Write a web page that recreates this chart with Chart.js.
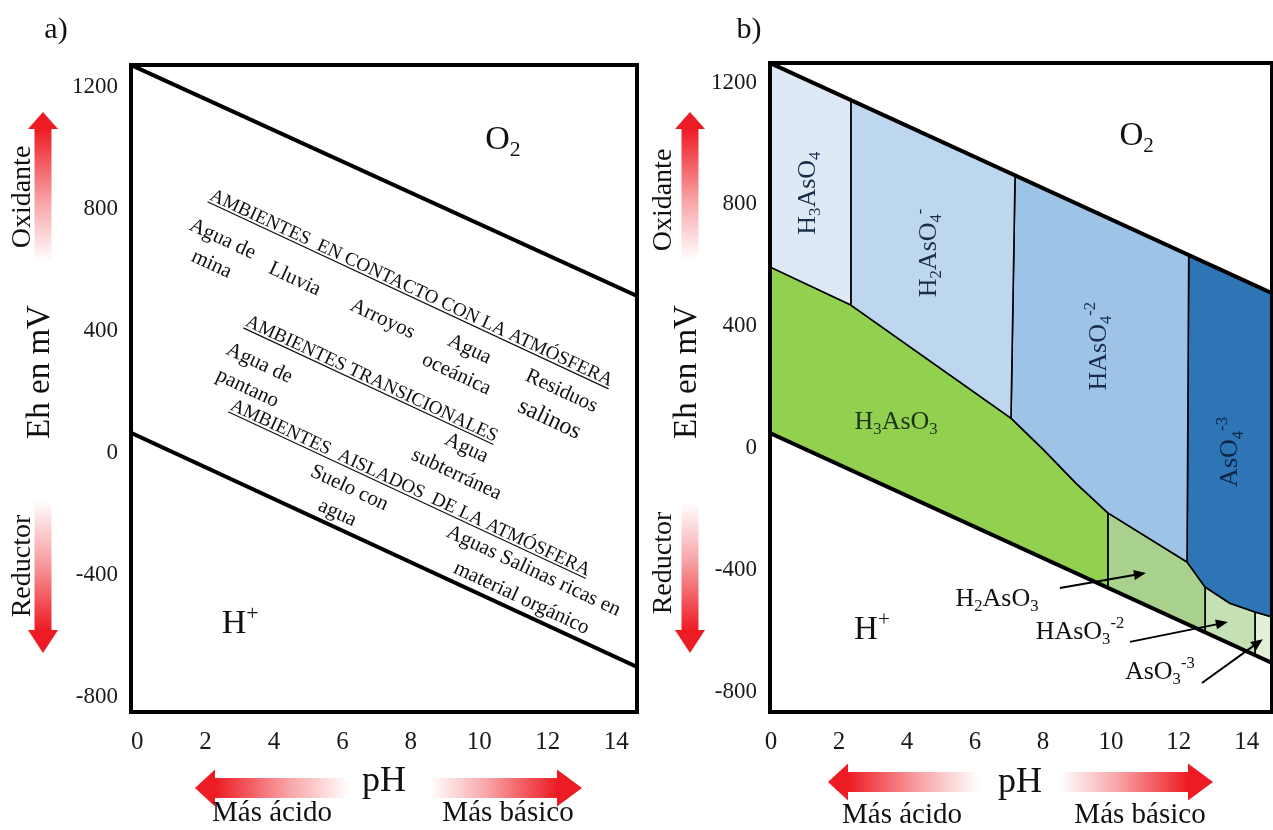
<!DOCTYPE html>
<html>
<head>
<meta charset="utf-8">
<script src="https://cdn.jsdelivr.net/npm/chart.js@4.4.0/dist/chart.umd.min.js"></script>
<style>
  body { margin: 0; background: #fff; }
  #wrap { position: relative; width: 1273px; height: 830px; overflow: hidden; }
  canvas { position: absolute; top: 0; }
</style>
</head>
<body>
<div id="wrap">
  <canvas id="chartA" width="640" height="830" style="left:0"></canvas>
  <canvas id="chartB" width="633" height="830" style="left:640px"></canvas>
</div>
<script>
const xTicks = [0, 2, 4, 6, 8, 10, 12, 14];
const yTicks = [-800, -400, 0, 400, 800, 1200];

// panel a: water stability limits [pH, Eh mV]
const o2LimitA = [[-0.18, 1271], [14.61, 514]];
const h2LimitA = [[-0.18, 65], [14.61, -702]];

// panel b: water stability limits
const o2LimitB = [[-0.03, 1264], [14.74, 509]];
const h2LimitB = [[-0.03, 50], [14.74, -704]];

// panel b: arsenic species fields [pH, Eh mV]
const fieldH3AsO4 = [[-0.03, 1264], [2.35, 1142], [2.35, 470], [-0.03, 595]];
const fieldH2AsO4 = [[2.35, 1142], [7.18, 896], [7.06, 99], [2.35, 470]];
const fieldHAsO4 = [[7.18, 896], [12.29, 634], [12.24, -373], [9.91, -212], [8.97, -114], [8.03, -6], [7.06, 99]];
const fieldAsO4 = [[12.29, 634], [14.74, 509], [14.74, -553], [14.24, -537], [13.5, -508], [12.77, -455], [12.24, -373]];
const fieldH3AsO3 = [[-0.03, 595], [2.35, 470], [7.06, 99], [8.03, -6], [8.97, -114], [9.91, -212], [9.91, -458], [-0.03, 50]];
const fieldH2AsO3 = [[9.91, -212], [12.24, -373], [12.77, -455], [12.77, -604], [9.91, -458]];
const fieldHAsO3 = [[12.77, -455], [13.5, -508], [14.24, -537], [14.24, -679], [12.77, -604]];
const fieldAsO3 = [[14.24, -537], [14.74, -553], [14.74, -704], [14.24, -679]];

// pointer arrows in panel b [from, to]
const pointersB = [
  [[8.5, -458], [11.03, -409]],
  [[10.56, -635], [13.44, -570]],
  [[12.68, -770], [14.47, -626]]
];

const FONT = '"Liberation Serif", "Times New Roman", serif';
const RED = '237,28,36';

const notesA = [
  {t: 'AMBIENTES  EN CONTACTO CON LA ATMÓSFERA', x: 8.03, y: 543, size: 19, u: true},
  {t: 'Agua de', x: 2.51, y: 704},
  {t: 'mina', x: 2.19, y: 622},
  {t: 'Lluvia', x: 4.62, y: 573},
  {t: 'Arroyos', x: 7.19, y: 442},
  {t: 'Agua', x: 9.73, y: 343},
  {t: 'oceánica', x: 9.35, y: 261},
  {t: 'Residuos', x: 12.42, y: 206},
  {t: 'salinos', x: 12.07, y: 114, size: 24},
  {t: 'AMBIENTES TRANSICIONALES', x: 6.87, y: 245, size: 19, u: true},
  {t: 'Agua de', x: 3.59, y: 297},
  {t: 'pantano', x: 3.24, y: 215},
  {t: 'Agua', x: 9.64, y: 19},
  {t: 'subterránea', x: 9.35, y: -67},
  {t: 'AMBIENTES  AISLADOS  DE LA ATMÓSFERA', x: 8.0, y: -112, size: 19, u: true},
  {t: 'Suelo con', x: 6.22, y: -112},
  {t: 'agua', x: 5.87, y: -194},
  {t: 'Aguas Salinas ricas en', x: 11.6, y: -384},
  {t: 'material orgánico', x: 11.25, y: -473}
].map(n => Object.assign({size: 21, rot: 25}, n));
notesA.push({t: 'O_{2}', x: 10.69, y: 1031, size: 34, rot: 0});
notesA.push({t: 'H^{+}', x: 3.01, y: -555, size: 34, rot: 0});

const notesB = [
  {t: 'H_{3}AsO_{4}', x: 1.03, y: 837, rot: -90, c: '#1b2b4a'},
  {t: 'H_{2}AsO_{4}^{-}', x: 4.59, y: 641, rot: -90, c: '#1b2b4a'},
  {t: 'HAsO_{4}^{-2}', x: 9.6, y: 335, rot: -90, c: '#1b2b4a'},
  {t: 'AsO_{4}^{-3}', x: 13.47, y: -12, rot: -90, c: '#0f2445'},
  {t: 'H_{3}AsO_{3}', x: 3.68, y: 93, c: '#1e3318'},
  {t: 'H_{2}AsO_{3}', x: 6.65, y: -488},
  {t: 'HAsO_{3}^{-2}', x: 9.09, y: -596},
  {t: 'AsO_{3}^{-3}', x: 11.44, y: -727},
  {t: 'H^{+}', x: 2.97, y: -590, size: 33},
  {t: 'O_{2}', x: 10.76, y: 1031, size: 33}
].map(n => Object.assign({size: 26, rot: 0}, n));

const sideA = {tag: 'a)', tagX: 56, tagY: 30, vx: 43, txtX: 23, ehX: 40, ehY: 372, oxY: 197, reY: 566,
  up: [262, 112], dn: [500, 653], hy: 788, left: [350, 195], right: [430, 582],
  phX: 384, phY: 782, acX: 272, baX: 508, hintY: 813};
const sideB = {tag: 'b)', tagX: 109, tagY: 30, vx: 50, txtX: 24, ehX: 47, ehY: 372, oxY: 200, reY: 563,
  up: [260, 112], dn: [503, 653], hy: 782, left: [339, 188], right: [420, 573],
  phX: 380, phY: 783, acX: 262, baX: 500, hintY: 815};

function richText(ctx, str, size, color, underline) {
  const parts = [];
  str.replace(/([_^])\{([^}]*)\}|([^_^]+)/g, (m, k, s, t) => {
    parts.push(k ? {k: k, t: s} : {k: '', t: t});
    return m;
  });
  let w = 0;
  parts.forEach(p => {
    p.size = p.k ? size * 0.64 : size;
    p.dy = p.k === '_' ? size * 0.2 : (p.k === '^' ? -size * 0.4 : 0);
    ctx.font = p.size + 'px ' + FONT;
    p.w = ctx.measureText(p.t).width;
    w += p.w;
  });
  const base = size * 0.33;
  let cx = -w / 2;
  ctx.fillStyle = color;
  ctx.textAlign = 'left';
  ctx.textBaseline = 'alphabetic';
  parts.forEach(p => {
    ctx.font = p.size + 'px ' + FONT;
    ctx.fillText(p.t, cx, base + p.dy);
    cx += p.w;
  });
  if (underline) {
    ctx.strokeStyle = color;
    ctx.lineWidth = 1.2;
    ctx.beginPath();
    ctx.moveTo(-w / 2, base + size * 0.15);
    ctx.lineTo(w / 2, base + size * 0.15);
    ctx.stroke();
  }
}

// faded red arrow, tail (x0,y0) -> tip (x1,y1)
function redArrow(ctx, x0, y0, x1, y1, headLen, headW, shaftW) {
  const len = Math.hypot(x1 - x0, y1 - y0);
  ctx.save();
  ctx.translate(x0, y0);
  ctx.rotate(Math.atan2(y1 - y0, x1 - x0));
  const g = ctx.createLinearGradient(0, 0, len - headLen, 0);
  g.addColorStop(0, 'rgba(' + RED + ',0)');
  g.addColorStop(0.45, 'rgba(' + RED + ',0.4)');
  g.addColorStop(1, 'rgba(' + RED + ',1)');
  ctx.fillStyle = g;
  ctx.fillRect(0, -shaftW / 2, len - headLen + 0.5, shaftW);
  ctx.fillStyle = 'rgb(' + RED + ')';
  ctx.beginPath();
  ctx.moveTo(len - headLen, -headW / 2);
  ctx.lineTo(len, 0);
  ctx.lineTo(len - headLen, headW / 2);
  ctx.closePath();
  ctx.fill();
  ctx.restore();
}

function plainText(ctx, t, x, y, size, rot) {
  ctx.save();
  ctx.translate(x, y);
  ctx.rotate((rot || 0) * Math.PI / 180);
  ctx.font = size + 'px ' + FONT;
  ctx.fillStyle = '#111';
  ctx.textAlign = 'center';
  ctx.textBaseline = 'middle';
  ctx.fillText(t, 0, 0);
  ctx.restore();
}

const decor = {
  id: 'decor',
  afterDatasetsDraw(chart, args, o) {
    const {ctx, chartArea: a, scales: {x, y}} = chart;
    ctx.save();
    // pointer arrows
    (o.pointers || []).forEach(([p, q]) => {
      const x0 = x.getPixelForValue(p[0]), y0 = y.getPixelForValue(p[1]);
      const x1 = x.getPixelForValue(q[0]), y1 = y.getPixelForValue(q[1]);
      const ang = Math.atan2(y1 - y0, x1 - x0);
      ctx.strokeStyle = '#000';
      ctx.fillStyle = '#000';
      ctx.lineWidth = 2;
      ctx.beginPath();
      ctx.moveTo(x0, y0);
      ctx.lineTo(x1 - 9 * Math.cos(ang), y1 - 9 * Math.sin(ang));
      ctx.stroke();
      ctx.save();
      ctx.translate(x1, y1);
      ctx.rotate(ang);
      ctx.beginPath();
      ctx.moveTo(0, 0);
      ctx.lineTo(-12, -5);
      ctx.lineTo(-12, 5);
      ctx.closePath();
      ctx.fill();
      ctx.restore();
    });
    // frame
    ctx.lineWidth = 4;
    ctx.strokeStyle = '#000';
    ctx.strokeRect(a.left, a.top, a.right - a.left, a.bottom - a.top);
    // labels inside the plot
    (o.notes || []).forEach(n => {
      ctx.save();
      ctx.translate(x.getPixelForValue(n.x), y.getPixelForValue(n.y));
      ctx.rotate(n.rot * Math.PI / 180);
      richText(ctx, n.t, n.size, n.c || '#111', n.u);
      ctx.restore();
    });
    // outside decorations
    const s = o.side;
    redArrow(ctx, s.vx, s.up[0], s.vx, s.up[1], 17, 30, 17);
    redArrow(ctx, s.vx, s.dn[0], s.vx, s.dn[1], 23, 30, 17);
    redArrow(ctx, s.left[0], s.hy, s.left[1], s.hy, 20, 37, 20);
    redArrow(ctx, s.right[0], s.hy, s.right[1], s.hy, 25, 37, 20);
    plainText(ctx, 'Oxidante', s.txtX, s.oxY, 28, -90);
    plainText(ctx, 'Reductor', s.txtX, s.reY, 28, -90);
    plainText(ctx, 'Eh en mV', s.ehX, s.ehY, 33, -90);
    plainText(ctx, 'pH', s.phX, s.phY, 36, 0);
    plainText(ctx, 'Más ácido', s.acX, s.hintY, 29, 0);
    plainText(ctx, 'Más básico', s.baX, s.hintY, 29, 0);
    plainText(ctx, s.tag, s.tagX, s.tagY, 30, 0);
    ctx.restore();
  }
};

const pts = arr => arr.map(([x, y]) => ({x: x, y: y}));

function limitSet(arr) {
  return {data: pts(arr), borderColor: '#000', borderWidth: 4, fill: false, pointRadius: 0, tension: 0};
}
function fieldSet(arr, color) {
  return {data: pts(arr.concat([arr[0]])), borderColor: '#000', borderWidth: 1.6, backgroundColor: color,
    fill: 'shape', pointRadius: 0, tension: 0};
}

function makeChart(id, datasets, cfg) {
  return new Chart(document.getElementById(id), {
    type: 'line',
    data: {datasets: datasets},
    options: {
      responsive: false,
      animation: false,
      events: [],
      layout: {padding: {left: 0, right: cfg.padRight, top: cfg.padTop, bottom: 0}},
      plugins: {
        legend: {display: false},
        tooltip: {enabled: false},
        decor: {notes: cfg.notes, pointers: cfg.pointers, side: cfg.side}
      },
      scales: {
        x: {
          type: 'linear', min: cfg.xMin, max: cfg.xMax,
          afterFit: sc => { sc.height = cfg.xAxisH; sc.paddingLeft = 0; sc.paddingRight = 0; },
          afterBuildTicks: sc => { sc.ticks = xTicks.map(v => ({value: v})); },
          grid: {display: false, drawTicks: false},
          border: {display: false},
          ticks: {font: {family: FONT, size: 25}, color: '#1a1a1a', padding: 15, maxRotation: 0, autoSkip: false,
            callback: v => String(v)}
        },
        y: {
          type: 'linear', min: cfg.yMin, max: cfg.yMax,
          afterFit: sc => { sc.width = cfg.yAxisW; sc.paddingTop = 0; sc.paddingBottom = 0; },
          afterBuildTicks: sc => { sc.ticks = yTicks.map(v => ({value: v})); },
          grid: {display: false, drawTicks: false},
          border: {display: false},
          ticks: {font: {family: FONT, size: 23}, color: '#1a1a1a', padding: 13, autoSkip: false,
            callback: v => String(v)}
        }
      }
    },
    plugins: [decor]
  });
}

makeChart('chartA', [limitSet(o2LimitA), limitSet(h2LimitA)], {
  xMin: -0.18, xMax: 14.61, yMin: -850, yMax: 1271,
  padTop: 65, padRight: 3, xAxisH: 118, yAxisW: 131,
  notes: notesA, pointers: [], side: sideA
});

makeChart('chartB', [
  limitSet(o2LimitB), limitSet(h2LimitB),
  fieldSet(fieldH3AsO4, '#ddeaf6'),
  fieldSet(fieldH2AsO4, '#bdd7ee'),
  fieldSet(fieldHAsO4, '#9dc3e6'),
  fieldSet(fieldAsO4, '#2e75b6'),
  fieldSet(fieldH3AsO3, '#92d050'),
  fieldSet(fieldH2AsO3, '#a9d18e'),
  fieldSet(fieldHAsO3, '#c5e0b4'),
  fieldSet(fieldAsO3, '#e2f0d9')
], {
  xMin: -0.03, xMax: 14.74, yMin: -865, yMax: 1264,
  padTop: 63, padRight: 1, xAxisH: 118, yAxisW: 130,
  notes: notesB, pointers: pointersB, side: sideB
});
</script>
</body>
</html>
